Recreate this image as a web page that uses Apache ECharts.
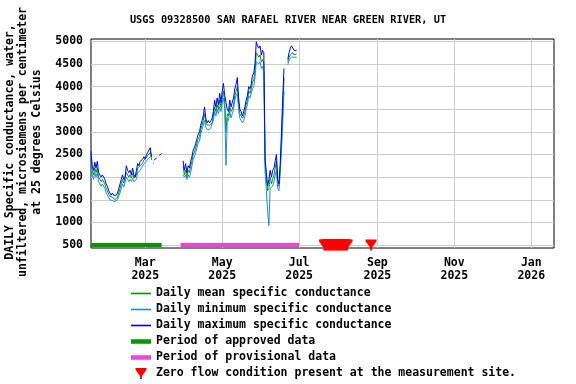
<!DOCTYPE html>
<html><head><meta charset="utf-8">
<script src="https://cdn.jsdelivr.net/npm/echarts@6/dist/echarts.min.js"></script>
<style>html,body{margin:0;padding:0;background:#fff}#c{width:576px;height:384px}</style>
</head><body><div id="c"></div>
<script>
const titleText = 'USGS 09328500 SAN RAFAEL RIVER NEAR GREEN RIVER, UT';
const yTitle = 'DAILY Specific conductance, water,\nunfiltered, microsiemens per centimeter\nat 25 degrees Celsius';
const startDate = '2025-01-17';
const axisMin = '2025-01-17';
const axisMax = '2026-01-19';
const xTickDates = ['2025-03-01','2025-05-01','2025-07-01','2025-09-01','2025-11-01','2026-01-01'];
const xTickLabels = ['Mar\n2025','May\n2025','Jul\n2025','Sep\n2025','Nov\n2025','Jan\n2026'];
const yTicks = [500,1000,1500,2000,2500,3000,3500,4000,4500,5000];

// daily values starting at startDate (null = no data)
const maxVals = [
 2570,2250,2150,2330,2200,2350,2100,2050,2000,2050,
 2050,1950,1850,1800,1700,1650,1600,1650,1600,1560,
 1600,1650,1750,1850,1950,2050,1950,2000,2250,2150,
 2100,2150,2050,2200,2050,2000,2150,2300,2250,2350,
 2350,2400,2450,2400,2500,2550,2600,2650,2450,null,
 2380,2400,2420,null,2480,2500,2520,
 null,null,null,null,null,null,null,null,null,null,null,null,null,null,null,null,
 2360,2150,2300,2100,2250,2200,2350,2450,2600,2650,
 2750,2850,2950,3000,3150,3250,3350,3550,3300,3200,
 3250,3200,3250,3300,3450,3700,3550,3750,3600,3850,
 3650,3900,4070,3800,3650,3500,3450,3700,3550,3650,
 3750,3950,4050,4200,3750,3500,3450,3350,3450,3550,
 3700,3800,4000,3950,4050,4250,4300,4500,4990,4900,
 4850,4900,4700,4800,4750,2400,2100,1800,1950,2150,
 2000,2150,2200,2350,2500,1950,1850,2300,3000,3800,4400,
 null,null,
 4600,4750,4850,4900,4880,4800,4780,4800
];
const meanVals = [
 2400,2150,2050,2200,2100,2200,2000,1950,1900,1950,
 1950,1850,1750,1700,1620,1570,1530,1560,1520,1500,
 1530,1560,1650,1750,1850,1950,1870,1900,2100,2050,
 2000,2050,1980,2080,1980,1950,2050,2200,2180,2250,
 2280,2320,2380,2350,2430,2480,2520,2550,2380,null,
 null,2350,null,null,null,2450,null,
 null,null,null,null,null,null,null,null,null,null,null,null,null,null,null,null,
 2250,2050,2150,2000,2150,2100,2250,2350,2500,2550,
 2650,2750,2850,2900,3050,3150,3250,3400,3200,3150,
 3150,3150,3150,3200,3350,3550,3450,3600,3500,3700,
 3550,3750,3900,3650,3000,3400,3350,3550,3450,3500,
 3600,3800,3900,4000,3600,3400,3350,3300,3350,3450,
 3600,3700,3900,3850,3950,4100,4150,4350,4750,4700,
 4650,4700,4550,4600,4500,2300,1950,1700,1750,2000,
 1850,1950,2050,2200,2350,1850,1800,2200,2800,3500,4200,
 null,null,
 4550,4650,4700,4720,4750,4700,4700,4720
];
const minVals = [
 2250,2050,1950,2100,2000,2100,1900,1850,1800,1850,
 1850,1750,1650,1600,1550,1500,1470,1480,1450,1460,
 1480,1500,1580,1650,1750,1850,1780,1800,2000,1950,
 1900,1950,1900,1980,1900,1880,1950,2100,2100,2150,
 2200,2250,2300,2300,2350,2400,2430,2450,null,2300,
 2320,null,2350,null,2380,null,null,
 null,null,null,null,null,null,null,null,null,null,null,null,null,null,null,null,
 2050,2000,2050,1950,2050,2000,2100,2250,2400,2450,
 2550,2650,2750,2800,2950,3050,3150,3250,3100,3050,
 3050,3050,3100,3100,3250,3450,3350,3500,3400,3550,
 3450,3650,3750,3500,2260,3300,3250,3450,3310,3400,
 3500,3700,3800,3850,3500,3300,3250,3200,3250,3350,
 3500,3600,3800,3750,3850,3950,4000,4200,4550,4550,
 4500,4550,4400,4450,4300,2100,1700,1250,930,1750,
 1750,1800,1900,2050,2150,1750,1700,2100,2600,3200,3900,
 null,null,
 4480,4600,4620,4650,4650,4650,4630,4650
];
const approvedPeriod = ['2025-01-17','2025-03-14'];
const provisionalPeriod = ['2025-03-29','2025-07-01'];
const periodLevel = 500;
const zeroFlowDates = ['2025-07-21','2025-07-22','2025-07-23','2025-07-24','2025-07-25','2025-07-26','2025-07-27',
 '2025-07-28','2025-07-29','2025-07-30','2025-07-31','2025-08-01','2025-08-02','2025-08-03','2025-08-04',
 '2025-08-05','2025-08-06','2025-08-07','2025-08-08','2025-08-27'];

const C_MEAN = '#009900', C_MIN = '#1a8fd6', C_MAX = '#0000ff', C_APP = '#009900', C_PROV = '#ee44dd', C_ZERO = '#ff0000';

function ts(s){const p=s.split('-').map(Number);return new Date(p[0],p[1]-1,p[2]).getTime();}
const s0 = startDate.split('-').map(Number);
function dayTs(i){return new Date(s0[0],s0[1]-1,s0[2]+i).getTime();}
const toPairs = arr => arr.map((v,i)=>[dayTs(i), v]);
const xTickTs = xTickDates.map(ts);

const FONT = 'DejaVu Sans Mono';
const tri = 'path://M0,0L12,0L12,2L7,9L7,12L5,12L5,9L0,2Z';
const thinIcon = 'path://M0,0H20V1.6H0Z';
const thickIcon = 'path://M0,0H20V4.5H0Z';
function leg(name, icon, color){
  return {name:name, icon:icon, itemStyle:{color:color, borderWidth:0, borderColor:color, opacity:1}, lineStyle:{color:color, width:0}};
}

const chart = echarts.init(document.getElementById('c'), null, {renderer:'canvas'});
chart.setOption({
  animation:false,
  backgroundColor:'#ffffff',
  title:{text:titleText,left:'center',top:10,textStyle:{fontFamily:FONT,fontWeight:'bold',fontSize:10.3,color:'#000'}},
  grid:{left:91,top:39,width:463,height:209,show:true,borderColor:'#000',borderWidth:1,backgroundColor:'transparent'},
  xAxis:{type:'value',min:ts(axisMin),max:ts(axisMax),
    axisLine:{show:false},axisTick:{show:false,customValues:xTickTs},
    splitLine:{show:true,lineStyle:{color:'#cccccc',width:1}},
    axisLabel:{customValues:xTickTs,margin:9,fontFamily:FONT,fontWeight:'bold',fontSize:11.5,color:'#000',lineHeight:13,
      formatter:function(v){const k=xTickTs.indexOf(v);return k>=0?xTickLabels[k]:'';}}},
  yAxis:{type:'value',min:434,max:5052,
    axisLine:{show:false},axisTick:{show:false,customValues:yTicks},
    splitLine:{show:true,lineStyle:{color:'#cccccc',width:1}},
    axisLabel:{customValues:yTicks,margin:8,fontFamily:FONT,fontWeight:'bold',fontSize:11.5,color:'#000',
      formatter:function(v){return String(v);}}},
  legend:{orient:'vertical',left:131,top:285.5,padding:0,itemGap:0,itemWidth:20,itemHeight:11,
    textStyle:{fontFamily:FONT,fontWeight:'bold',fontSize:11.5,color:'#000',lineHeight:16},
    data:[leg('Daily mean specific conductance',thinIcon,C_MEAN),
      leg('Daily minimum specific conductance',thinIcon,C_MIN),
      leg('Daily maximum specific conductance',thinIcon,C_MAX),
      leg('Period of approved data',thickIcon,C_APP),
      leg('Period of provisional data',thickIcon,C_PROV),
      leg('Zero flow condition present at the measurement site.',tri,C_ZERO)]},
  graphic:[{type:'text',x:23.5,y:142,rotation:Math.PI/2,
    style:{text:yTitle,fontFamily:FONT,fontWeight:'bold',fontSize:11.5,lineHeight:13.5,fill:'#000',align:'center',verticalAlign:'middle'}}],
  series:[
    {name:'Daily mean specific conductance',type:'line',data:toPairs(meanVals),symbol:'none',lineStyle:{color:C_MEAN,width:1},itemStyle:{color:C_MEAN},z:3},
    {name:'Daily minimum specific conductance',type:'line',data:toPairs(minVals),symbol:'none',lineStyle:{color:C_MIN,width:1},itemStyle:{color:C_MIN},z:3},
    {name:'Daily maximum specific conductance',type:'line',data:toPairs(maxVals),symbol:'none',lineStyle:{color:C_MAX,width:1},itemStyle:{color:C_MAX},z:4},
    {name:'Period of approved data',type:'line',data:approvedPeriod.map(d=>[ts(d),periodLevel]),symbol:'none',clip:false,lineStyle:{color:C_APP,width:4,cap:'butt'},itemStyle:{color:C_APP},z:5},
    {name:'Period of provisional data',type:'line',data:provisionalPeriod.map(d=>[ts(d),periodLevel]),symbol:'none',clip:false,lineStyle:{color:C_PROV,width:4,cap:'butt'},itemStyle:{color:C_PROV},z:5},
    {name:'Zero flow condition present at the measurement site.',type:'scatter',data:zeroFlowDates.map(d=>[ts(d),periodLevel]),symbol:tri,symbolSize:[11,11],clip:false,itemStyle:{color:C_ZERO,opacity:1},z:6}
  ]
});
</script></body></html>
